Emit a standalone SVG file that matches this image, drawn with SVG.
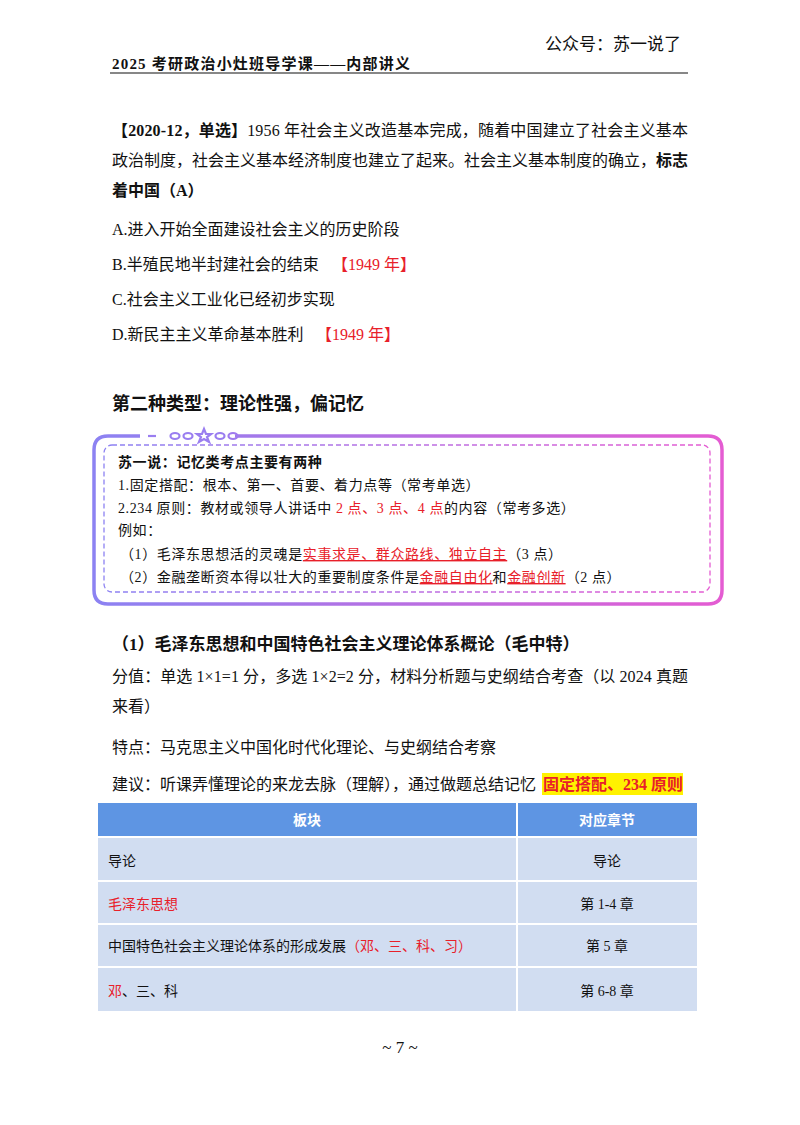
<svg xmlns="http://www.w3.org/2000/svg" width="800" height="1125" viewBox="0 0 800 1125">
<defs>
<linearGradient id="g" x1="0" x2="1" y1="0" y2="0"><stop offset="0" stop-color="#8c82f2"/><stop offset="1" stop-color="#e45cd2"/></linearGradient>
<style>
text{font-family:"Liberation Serif","Noto Sans CJK SC",serif;fill:#111}
.m{font-size:16px}
.b{font-weight:bold}
.r{fill:#e8202a}
.s{font-size:14px}
.bx{font-size:14px;letter-spacing:0.6px}
.u{text-decoration:underline}
.h{font-size:14px;fill:#fff;font-weight:bold}
.cell{fill:#d1ddf1}
</style>
</defs>
<rect width="800" height="1125" fill="#fff"/>
<g id="header">
<text x="545" y="50" font-size="17">公众号：苏一说了</text>
<text x="112" y="69" font-size="15" class="b" textLength="298" lengthAdjust="spacing">2025 考研政治小灶班导学课——内部讲义</text>
<line x1="110" y1="73" x2="688" y2="73" stroke="#111" stroke-width="1.2"/>
</g>
<g id="question" class="m">
<text x="112" y="136" class="m" textLength="576" lengthAdjust="spacing"><tspan class="b">【2020-12，单选】</tspan>1956 年社会主义改造基本完成，随着中国建立了社会主义基本</text>
<text x="112" y="166" class="m" textLength="576" lengthAdjust="spacing">政治制度，社会主义基本经济制度也建立了起来。社会主义基本制度的确立，<tspan class="b">标志</tspan></text>
<text x="112" y="196" class="m b">着中国（A）</text>
<text x="112" y="235" class="m">A.进入开始全面建设社会主义的历史阶段</text>
<text x="112" y="270" class="m">B.半殖民地半封建社会的结束<tspan x="332" class="r">【1949 年】</tspan></text>
<text x="112" y="305" class="m">C.社会主义工业化已经初步实现</text>
<text x="112" y="340" class="m">D.新民主主义革命基本胜利<tspan x="316" class="r">【1949 年】</tspan></text>
<text x="112" y="410" font-size="18" class="b">第二种类型：理论性强，偏记忆</text>
</g>
<g id="tipbox">
<path d="M140 436 H108 Q94 436 94 450 V590 Q94 604 108 604 H708 Q722 604 722 590 V450 Q722 436 708 436 H235" fill="none" stroke="url(#g)" stroke-width="3.5"/>
<g fill="none" stroke="#9a7ef0" stroke-width="2.2">
<line x1="148" y1="436" x2="156" y2="436"/>
<ellipse cx="175" cy="436" rx="4.5" ry="3"/><ellipse cx="188" cy="436" rx="4.5" ry="3"/>
<path d="M204 429 L206 434 L211 434 L207 437 L209 442 L204 439 L199 442 L201 437 L197 434 L202 434 Z"/>
<ellipse cx="220" cy="436" rx="4.5" ry="3"/><ellipse cx="233" cy="436" rx="4.5" ry="3" stroke="#a07cee"/>
</g>
<rect x="104" y="445" width="606" height="147" rx="8" fill="none" stroke="url(#g)" stroke-width="1.3" stroke-dasharray="5 3"/>
<text x="118" y="467" class="bx b">苏一说：记忆类考点主要有两种</text>
<text x="118" y="490" class="bx">1.固定搭配：根本、第一、首要、着力点等（常考单选）</text>
<text x="118" y="513" class="bx">2.234 原则：教材或领导人讲话中 <tspan class="r">2 点、3 点、4 点</tspan>的内容（常考多选）</text>
<text x="118" y="535" class="bx">例如：</text>
<text x="120" y="559" class="bx">（1）毛泽东思想活的灵魂是<tspan class="r u">实事求是、群众路线、独立自主</tspan>（3 点）</text>
<text x="120" y="582" class="bx">（2）金融垄断资本得以壮大的重要制度条件是<tspan class="r u">金融自由化</tspan>和<tspan class="r u">金融创新</tspan>（2 点）</text>
</g>
<g id="section">
<text x="112" y="650" font-size="17" class="b">（1）毛泽东思想和中国特色社会主义理论体系概论（毛中特）</text>
<text x="112" y="682" class="m" textLength="576" lengthAdjust="spacing">分值：单选 1×1=1 分，多选 1×2=2 分，材料分析题与史纲结合考查（以 2024 真题</text>
<text x="112" y="712" class="m">来看）</text>
<text x="112" y="753" class="m">特点：马克思主义中国化时代化理论、与史纲结合考察</text>
<rect x="542" y="773" width="141" height="22" fill="#fff200"/>
<text x="112" y="790" class="m">建议：听课弄懂理论的来龙去脉（理解），通过做题总结记忆<tspan x="543" class="r b">固定搭配、234 原则</tspan></text>
</g>
<g id="table">
<rect x="98" y="803" width="418" height="33" fill="#5e95e3"/>
<rect x="518" y="803" width="179" height="33" fill="#5e95e3"/>
<text x="307" y="825" class="h" text-anchor="middle">板块</text>
<text x="607" y="825" class="h" text-anchor="middle">对应章节</text>
<rect x="98" y="838" width="418" height="42" class="cell"/><rect x="518" y="838" width="179" height="42" class="cell"/>
<rect x="98" y="882" width="418" height="41" class="cell"/><rect x="518" y="882" width="179" height="41" class="cell"/>
<rect x="98" y="925" width="418" height="41" class="cell"/><rect x="518" y="925" width="179" height="41" class="cell"/>
<rect x="98" y="968" width="418" height="43" class="cell"/><rect x="518" y="968" width="179" height="43" class="cell"/>
<text x="108" y="866" class="s">导论</text><text x="607" y="866" class="s" text-anchor="middle">导论</text>
<text x="108" y="909" class="s r">毛泽东思想</text><text x="607" y="909" class="s" text-anchor="middle">第 1-4 章</text>
<text x="108" y="951" class="s">中国特色社会主义理论体系的形成发展<tspan class="r">（邓、三、科、习）</tspan></text><text x="607" y="951" class="s" text-anchor="middle">第 5 章</text>
<text x="108" y="996" class="s"><tspan class="r">邓</tspan>、三、科</text><text x="607" y="996" class="s" text-anchor="middle">第 6-8 章</text>
</g>
<text x="400" y="1053" font-size="17" text-anchor="middle">~ 7 ~</text>
</svg>
